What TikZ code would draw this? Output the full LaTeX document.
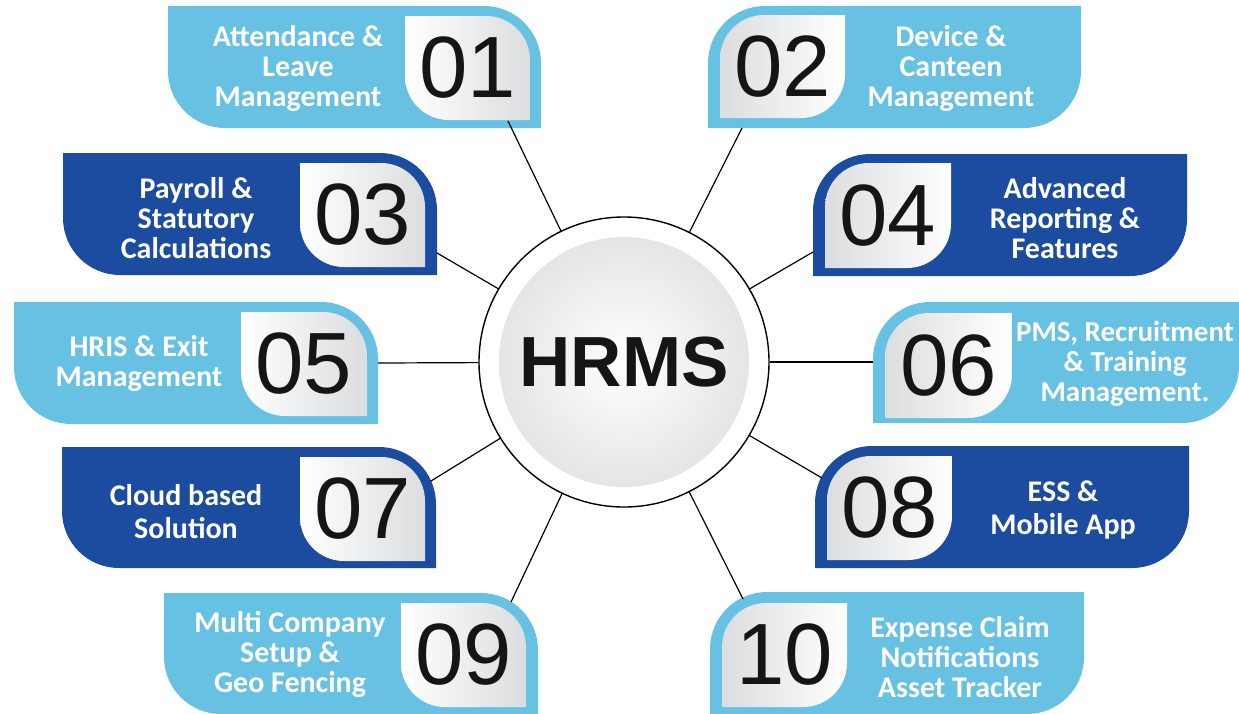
\documentclass[tikz,border=0pt]{standalone}
\usepackage{fontspec}
\setmainfont{Carlito}
\newfontfamily\numfont{Liberation Sans}
\definecolor{lblue}{HTML}{67C1E3}
\definecolor{dblue}{HTML}{1B4CA0}
\definecolor{boxgray}{HTML}{DCDDDF}
\definecolor{hubgray}{HTML}{E4E5E7}
\definecolor{numblack}{HTML}{151515}
% leaf shapes in pixel coordinates (y downwards)
\newcommand{\leafL}[5]{(#1,#2) -- ({#3-#5},#2) arc[start angle=270,end angle=360,radius=#5] -- (#3,#4) -- ({#1+#5},#4) arc[start angle=90,end angle=180,radius=#5] -- cycle}
\newcommand{\leafR}[5]{(#1,{#2+#5}) arc[start angle=180,end angle=270,radius=#5] -- (#3,#2) -- (#3,{#4-#5}) arc[start angle=0,end angle=90,radius=#5] -- (#1,#4) -- cycle}
\begin{document}
\begin{tikzpicture}[x=1pt,y=-1pt,
  conn/.style={draw=black,line width=1.2pt},
  label/.style={text=white,align=center,inner sep=0pt,font=\bfseries\fontsize{30}{30}\selectfont},
  labelsm/.style={label,font=\bfseries\fontsize{29}{30}\selectfont},
  labeltwo/.style={label,font=\bfseries\fontsize{30}{33}\selectfont},
  num/.style={text=numblack,inner sep=0pt,font=\numfont\fontsize{87}{87}\selectfont},
  shL/.style={left color=white,right color=boxgray},
  shR/.style={left color=boxgray,right color=white}]
\useasboundingbox (0,0) rectangle (1239,713);
% outer boxes
\fill[lblue] \leafL{168}{6}{541}{128}{57};
\fill[lblue] \leafR{708}{6}{1081}{128}{57};
\fill[dblue] \leafL{63}{153}{437}{275}{57};
\fill[dblue] \leafR{813}{154}{1187}{276}{57};
\fill[lblue] \leafL{14}{302}{378}{424}{57};
\fill[lblue] \leafR{873}{302}{1239}{423}{57};
\fill[dblue] \leafL{62}{447}{436}{568}{57};
\fill[dblue] \leafR{815}{446}{1189}{568}{57};
\fill[lblue] \leafL{164}{593}{538}{714}{57};
\fill[lblue] \leafR{710}{592}{1084}{714}{57};
% hub
\node[circle,draw=black,fill=white,line width=1.4pt,minimum size=290pt,inner sep=0pt] (hub) at (624,362) {};
\shade[inner color=white,outer color=hubgray] (hub.center) circle[radius=125];
\node[font=\numfont\bfseries\fontsize{71}{71}\selectfont,text=numblack,inner sep=0pt] (hrms) at (hub.center) {HRMS};
% connector ends
\coordinate (e1) at (508,121);
\coordinate (e2) at (742,128);
\coordinate (e3) at (437,253);
\coordinate (e4) at (813,252);
\coordinate (e5) at (378,363);
\coordinate (e6) at (873,362);
\coordinate (e7) at (431,481);
\coordinate (e8) at (822,478);
\coordinate (e9) at (511,602);
\coordinate (e10) at (743,599);
\foreach \i in {1,...,10} {\draw[conn] (hub) -- (e\i);}
% inner boxes
\shade[shL] \leafL{405}{16}{530}{120}{44};
\shade[shR] \leafR{720}{15}{845}{118}{44};
\shade[shL] \leafL{300}{163}{425}{267}{44};
\shade[shR] \leafR{825}{163}{951}{268}{44};
\shade[shL] \leafL{241}{312}{367}{416}{44};
\shade[shR] \leafR{885}{313}{1012}{418}{44};
\shade[shL] \leafL{300}{457}{425}{561}{44};
\shade[shR] \leafR{827}{456}{952}{560}{44};
\shade[shL] \leafL{401}{603}{526}{707}{44};
\shade[shR] \leafR{722}{603}{847}{707}{44};
% numbers
\node[num] (n1) at (467.5,68) {01};
\node[num] (n2) at (782.5,66.5) {02};
\node[num] (n3) at (362.5,215) {03};
\node[num] (n4) at (888,215.5) {04};
\node[num] (n5) at (304,364) {05};
\node[num] (n6) at (948.5,365.5) {06};
\node[num] (n7) at (362.5,509) {07};
\node[num] (n8) at (889.5,508) {08};
\node[num] (n9) at (463.5,655) {09};
\node[num] (n10) at (784.5,655) {10};
% labels
\node[label] (t1) at (298,69) {Attendance \&\\Leave\\Management};
\node[label] (t2) at (951,69) {Device \&\\Canteen\\Management};
\node[label] (t3) at (196,218) {Payroll \&\\Statutory\\Calculations};
\node[label] (t4) at (1065,218) {Advanced\\Reporting \&\\Features};
\node[label] (t5) at (139,364) {HRIS \& Exit\\Management};
\node[labelsm] (t6) at (1125,364) {PMS, Recruitment\\\& Training\\Management.};
\node[labeltwo] (t7) at (186,512) {Cloud based\\Solution};
\node[labeltwo] (t8) at (1063,510) {ESS \&\\Mobile App};
\node[label] (t9) at (290,654) {Multi Company\\Setup \&\\Geo Fencing};
\node[label] (t10) at (960,657) {Expense Claim\\Notifications\\Asset Tracker};
\end{tikzpicture}
\end{document}
